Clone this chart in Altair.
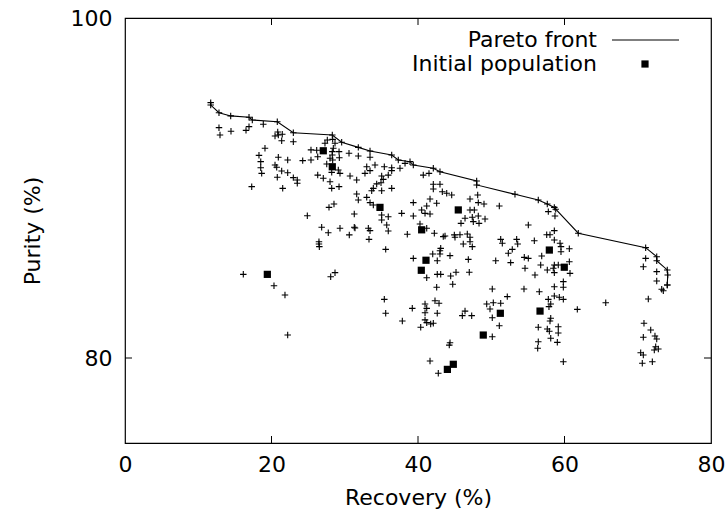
import altair as alt
import pandas as pd

# Pareto front (recovery %, purity %), in drawing order
front_rec = [11.70, 11.70, 12.83, 14.43, 16.93, 17.38, 20.79, 22.98, 28.30, 29.58, 31.85, 33.45,
             36.41, 37.31, 38.91, 39.36, 42.09, 43.00, 48.01, 48.01, 53.24, 56.42, 57.65, 58.61,
             58.80, 61.88, 71.08, 72.59, 72.59, 74.03, 74.09, 74.03]
front_pur = [95.02, 94.88, 94.43, 94.24, 94.16, 94.00, 93.90, 93.25, 93.12, 92.69, 92.39, 92.18,
             91.94, 91.65, 91.55, 91.35, 91.16, 90.96, 90.41, 90.18, 89.63, 89.29, 89.06, 88.86,
             88.75, 87.34, 86.49, 85.96, 85.72, 85.18, 84.88, 84.29]

# Initial population
init_rec = [27.07, 28.30, 34.81, 45.50, 40.50, 57.93, 59.97, 19.43, 41.09, 40.45, 51.24, 56.66,
            48.91, 44.82, 44.01]
init_pur = [92.19, 91.25, 88.86, 88.71, 87.54, 86.35, 85.34, 84.92, 85.75, 85.16, 82.63, 82.76,
            81.35, 79.63, 79.33]

# All evaluated solutions
cloud_rec = [
    12.83, 12.97, 14.47, 16.52, 16.93, 18.88, 20.85, 20.93, 21.47, 20.48, 21.39, 22.98, 19.11, 18.29,
    18.53, 18.53, 18.66, 17.30, 20.93, 22.21, 20.48, 20.71, 21.39, 22.21, 20.79, 22.98, 23.52, 23.52,
    21.53, 24.26, 25.39, 25.39, 26.17, 27.30, 27.62, 28.35, 28.67, 28.44, 28.30, 28.30, 29.22, 29.26,
    30.58, 28.35, 27.99, 27.54, 26.31, 28.22, 29.12, 29.35, 30.72, 26.31, 27.07, 27.99, 28.22, 29.22,
    31.85, 33.45, 33.00, 34.13, 35.40, 36.41, 36.41, 37.54, 38.23, 32.76, 33.45, 35.04, 35.94, 35.26,
    34.36, 34.95, 33.90, 35.04, 36.41, 33.68, 31.63, 31.63, 31.85, 33.00, 33.45, 33.90, 35.04, 35.94,
    35.04, 35.73, 37.77, 39.36, 39.36, 40.50, 41.19, 40.96, 41.64, 41.64, 42.55, 40.72, 41.50, 42.09,
    42.09, 43.00, 43.32, 43.92, 44.60, 47.10, 48.15, 48.23, 49.01, 47.10, 47.69, 47.41, 46.42, 47.55,
    48.23, 49.15, 48.33, 45.87, 51.10, 40.27, 41.19, 33.22, 31.40,
    57.79, 58.70, 55.06, 58.61, 57.57, 58.02, 55.88, 58.61, 53.47, 53.61, 59.39, 59.52, 59.52, 60.66,
    56.89, 54.51, 55.06, 56.75, 58.61, 59.15, 58.47, 54.61, 57.65, 58.61, 60.66, 60.75, 55.97, 71.08,
    70.76, 72.59,
    28.53, 27.85, 24.89, 26.85, 27.75, 29.35, 30.62, 31.30, 26.48, 26.48, 26.53, 16.15, 20.34, 21.84,
    28.67, 28.08, 31.30,
    33.31, 33.45, 35.94, 38.54, 42.23, 43.45, 43.69, 44.96, 45.05, 45.73, 46.73, 47.10, 46.18, 47.10,
    47.41, 51.29, 51.51, 52.87, 52.33, 52.65, 50.61, 35.59, 43.10, 43.00, 42.01, 43.00, 44.37, 39.36,
    42.63, 46.87, 42.63, 43.10, 44.46, 45.19, 47.00, 41.19, 44.74, 42.55, 50.14, 52.19, 35.40, 42.32,
    42.87, 40.96, 41.19, 39.22, 40.96, 42.63, 35.59, 46.42, 46.05, 47.33, 49.38, 50.28, 51.29, 49.83,
    50.14, 51.10, 37.86, 40.96, 41.19, 41.73, 42.09, 40.37,
    54.47, 56.56, 58.61, 59.84, 59.84, 57.79, 58.61, 59.29, 59.84, 58.12, 57.88, 61.75, 65.63, 58.12,
    58.02, 56.42, 57.65, 57.93, 59.15, 59.15, 58.12, 59.02, 56.42, 56.34, 59.84, 72.59, 74.03, 73.27,
    73.49, 71.44, 70.85, 71.77, 70.76, 72.35, 72.59, 72.45, 72.81, 72.26, 70.40, 70.76, 70.62, 71.99,
    22.21, 50.14, 44.37, 44.27, 41.64, 42.77,
]
cloud_pur = [
    93.55, 93.12, 93.34, 93.39, 93.61, 93.75, 93.29, 93.12, 93.16, 93.06, 92.78, 92.72, 92.34, 91.92,
    91.55, 91.19, 90.86, 90.08, 91.81, 91.65, 91.35, 91.22, 91.00, 90.90, 90.63, 90.61, 90.47, 90.28,
    89.98, 91.61, 91.65, 92.24, 92.22, 92.63, 92.82, 92.86, 92.63, 92.34, 92.14, 91.94, 92.14, 91.78,
    92.04, 91.65, 91.75, 91.41, 91.84, 90.92, 91.06, 90.86, 90.71, 90.76, 90.57, 90.37, 89.98, 90.08,
    91.88, 91.81, 91.25, 91.35, 91.25, 91.19, 91.02, 91.16, 91.45, 90.86, 91.02, 90.71, 90.76, 90.51,
    90.24, 90.31, 89.98, 89.84, 89.98, 89.84, 90.47, 89.65, 89.29, 89.45, 89.14, 89.00, 88.41, 88.31,
    88.12, 87.82, 88.51, 89.14, 88.35, 88.71, 88.94, 88.51, 88.47, 89.35, 89.10, 90.76, 90.86, 90.22,
    89.94, 90.22, 89.78, 89.69, 89.59, 89.35, 89.59, 89.14, 89.06, 88.71, 88.71, 88.28, 88.22, 88.02,
    88.35, 88.18, 87.92, 87.92, 88.94, 87.88, 87.63, 87.63, 87.65,
    88.61, 88.35, 87.82, 87.49, 87.25, 87.25, 86.90, 86.94, 86.98, 86.71, 86.75, 86.55, 86.25, 86.43,
    86.00, 85.92, 85.86, 85.47, 85.47, 85.47, 85.28, 85.28, 85.18, 85.02, 85.66, 84.98, 84.88, 85.86,
    85.37, 85.08,
    89.06, 88.86, 88.37, 87.69, 87.37, 87.63, 87.24, 87.69, 86.84, 86.71, 86.55, 84.92, 84.25, 83.71,
    85.02, 84.78, 88.47,
    86.98, 87.49, 87.47, 87.28, 87.34, 87.14, 87.18, 87.24, 87.10, 87.25, 87.29, 87.10, 86.71, 86.84,
    86.55, 86.98, 86.75, 86.39, 86.16, 85.61, 85.72, 86.39, 86.45, 86.31, 86.12, 86.12, 86.02, 85.86,
    85.72, 85.80, 84.92, 84.92, 84.82, 85.04, 85.04, 84.72, 84.34, 84.16, 84.06, 83.61, 83.45, 83.37,
    83.22, 83.18, 82.92, 82.92, 82.66, 82.63, 82.63, 82.76, 82.49, 82.49, 83.18, 83.25, 83.22, 82.88,
    82.37, 81.90, 82.18, 82.24, 82.08, 82.00, 82.04, 81.81,
    84.06, 83.90, 84.19, 84.16, 84.49, 83.45, 83.65, 83.57, 83.45, 83.18, 83.02, 82.86, 83.25, 82.34,
    82.18, 81.81, 81.71, 81.57, 81.84, 81.47, 81.16, 80.92, 80.96, 80.57, 79.78, 84.53, 84.29, 84.04,
    83.96, 83.47, 82.04, 81.65, 81.22, 81.29, 81.12, 80.66, 80.53, 80.47, 80.31, 80.18, 79.69, 79.78,
    81.35, 81.25, 80.90, 80.76, 79.82, 79.10,
]

x_ticks = [0, 20, 40, 60, 80]
y_ticks = [80, 100]
inner_x_ticks = [20, 40, 60]
inner_y_ticks = [80]

W, H = 586, 425
FONT = "DejaVu Sans"
FS = 22
PLUS = "M-1,0L1,0M0,-1L0,1"

front_df = pd.DataFrame({"rec": front_rec, "pur": front_pur, "order": list(range(len(front_rec)))})
init_df = pd.DataFrame({"rec": init_rec, "pur": init_pur})
cloud_df = pd.DataFrame({"rec": cloud_rec + front_rec, "pur": cloud_pur + front_pur})

xs = alt.Scale(domain=[0, 80], nice=False, zero=False)
ys = alt.Scale(domain=[75, 100], nice=False, zero=False)

X = alt.X("rec:Q", scale=xs,
          axis=alt.Axis(values=x_ticks, ticks=False, domain=False, grid=False,
                        title="Recovery (%)", labelFontSize=FS, titleFontSize=FS,
                        labelFont=FONT, titleFont=FONT, titleFontWeight="normal",
                        labelColor="black", titleColor="black", labelPadding=11,
                        titleX=W / 2, titleY=54, titleBaseline="middle", titleAlign="center",
                        labelFlush=False))
Y = alt.Y("pur:Q", scale=ys,
          axis=alt.Axis(values=y_ticks, ticks=False, domain=False, grid=False,
                        title="Purity (%)", labelFontSize=FS, titleFontSize=FS,
                        labelFont=FONT, titleFont=FONT, titleFontWeight="normal",
                        labelColor="black", titleColor="black", labelPadding=13,
                        titleX=-93, titleY=H / 2, titleAngle=270, titleBaseline="middle",
                        titleAlign="center", labelFlush=False))

cloud = alt.Chart(cloud_df).mark_point(shape=PLUS, size=42, filled=False, color="black",
                                       strokeWidth=1.1, opacity=1).encode(x=X, y=Y)
line = alt.Chart(front_df).mark_line(color="black", strokeWidth=1.1).encode(
    x=alt.X("rec:Q", scale=xs), y=alt.Y("pur:Q", scale=ys), order="order:Q")
init = alt.Chart(init_df).mark_square(size=52, color="black", opacity=1).encode(
    x=alt.X("rec:Q", scale=xs), y=alt.Y("pur:Q", scale=ys))

# inward tick marks (gnuplot style)
xt_df = pd.DataFrame({"rec": inner_x_ticks})
yt_df = pd.DataFrame({"pur": inner_y_ticks})
xt_bottom = alt.Chart(xt_df).mark_rule(color="black", strokeWidth=1).encode(
    x=alt.X("rec:Q", scale=xs), y=alt.value(H), y2=alt.value(H - 7))
xt_top = alt.Chart(xt_df).mark_rule(color="black", strokeWidth=1).encode(
    x=alt.X("rec:Q", scale=xs), y=alt.value(0), y2=alt.value(7))
yt_left = alt.Chart(yt_df).mark_rule(color="black", strokeWidth=1).encode(
    y=alt.Y("pur:Q", scale=ys), x=alt.value(0), x2=alt.value(7))
yt_right = alt.Chart(yt_df).mark_rule(color="black", strokeWidth=1).encode(
    y=alt.Y("pur:Q", scale=ys), x=alt.value(W), x2=alt.value(W - 7))

# key (gnuplot style: label on the left, sample on the right)
key_df = pd.DataFrame({"label": ["Pareto front", "Initial population"]})
key_text1 = alt.Chart(key_df).transform_filter(alt.datum.label == "Pareto front").mark_text(
    align="right", baseline="middle", font=FONT, fontSize=FS, color="black").encode(
    text="label:N", x=alt.value(472), y=alt.value(22))
key_text2 = alt.Chart(key_df).transform_filter(alt.datum.label == "Initial population").mark_text(
    align="right", baseline="middle", font=FONT, fontSize=FS, color="black").encode(
    text="label:N", x=alt.value(472), y=alt.value(46))
key_line = alt.Chart(key_df).transform_filter(alt.datum.label == "Pareto front").mark_rule(
    color="black", strokeWidth=1.1).encode(x=alt.value(487), x2=alt.value(554), y=alt.value(22))
key_sq = alt.Chart(key_df).transform_filter(alt.datum.label == "Initial population").mark_square(
    size=52, color="black", opacity=1).encode(x=alt.value(520), y=alt.value(46))

chart = alt.layer(
    cloud, line, init, xt_bottom, xt_top, yt_left, yt_right,
    key_text1, key_text2, key_line, key_sq
).properties(
    width=W, height=H,
    autosize=alt.AutoSizeParams(type="none"),
    padding={"left": 125, "top": 18, "right": 15, "bottom": 79},
    background="white",
).configure_view(stroke="black", strokeWidth=1.2)

chart.save("out.html", embed_options={"renderer": "svg", "actions": False})
